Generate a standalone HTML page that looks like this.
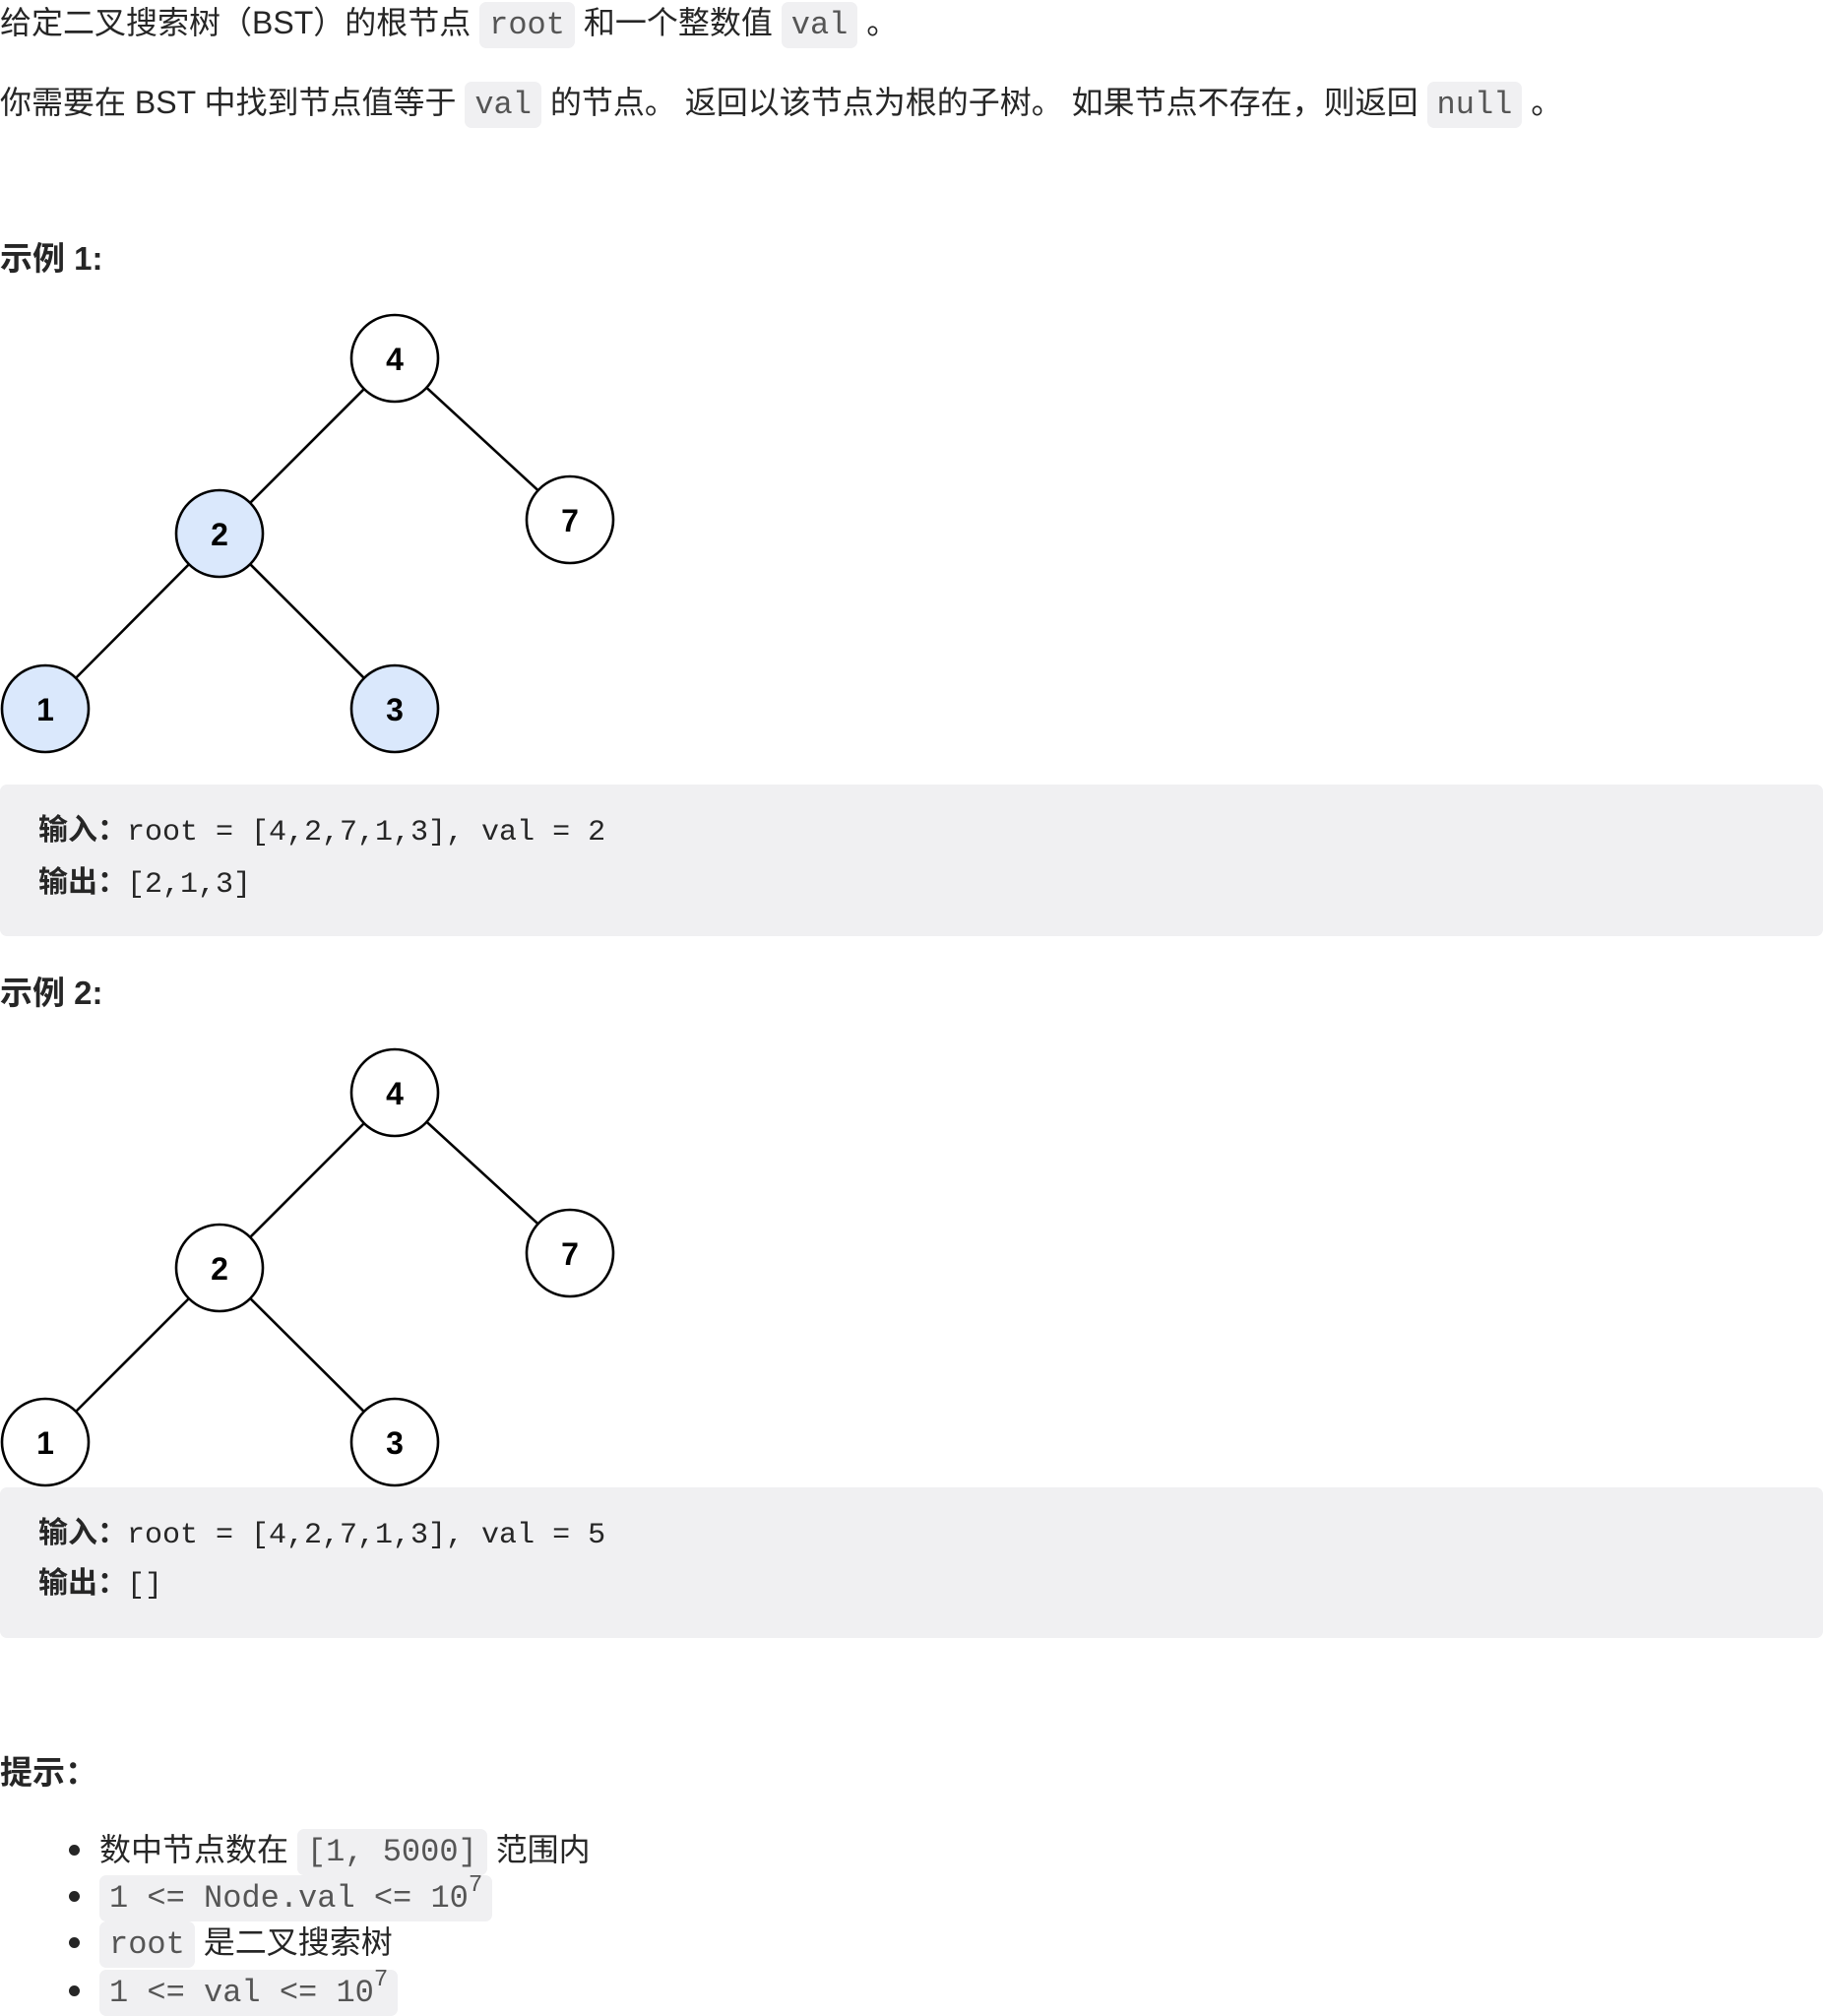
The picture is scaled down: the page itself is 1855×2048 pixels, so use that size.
<!DOCTYPE html>
<html><head><meta charset="utf-8"><style>
html,body{margin:0;padding:0;background:#fff;}
body{width:1855px;height:2048px;position:relative;overflow:hidden;font-family:"Liberation Sans","Noto Sans CJK SC",sans-serif;color:#262626;}
.l{position:absolute;left:0;white-space:nowrap;font-size:32px;line-height:47px;}
code{font-family:"Liberation Mono","Noto Sans CJK SC",monospace;font-size:32px;color:#555;background:#f0f0f2;border-radius:7px;padding:5px 10px;}
.b{font-weight:bold;font-size:33px;}
.pre{position:absolute;left:0;width:1852px;background:#f0f0f2;border-radius:7px;}
.pre div{position:absolute;left:39px;white-space:nowrap;font-family:"Liberation Mono","Noto Sans CJK SC",monospace;font-size:30px;line-height:40px;color:#262626;}
.pre b{font-family:"Liberation Sans","Noto Sans CJK SC",sans-serif;}
.li{position:absolute;left:101px;white-space:nowrap;font-size:32px;line-height:47px;}
.dot{position:absolute;left:70px;width:11px;height:11px;border-radius:50%;background:#262626;}
sup{font-size:24px;vertical-align:16px;line-height:0;}
</style></head><body>
<div class="l" style="top:0px">给定二叉搜索树（BST）的根节点 <code>root</code> 和一个整数值 <code>val</code> 。</div>
<div class="l" style="top:81px">你需要在 BST 中找到节点值等于 <code>val</code> 的节点。 返回以该节点为根的子树。 如果节点不存在，则返回 <code>null</code> 。</div>
<div class="l b" style="top:239px">示例 1:</div>

<svg style="position:absolute;left:0;top:0" width="700" height="1560">
<g stroke="#000" stroke-width="2.6">
<line x1="401" y1="364" x2="223" y2="542"/><line x1="401" y1="364" x2="579" y2="528"/>
<line x1="223" y1="542" x2="46" y2="720"/><line x1="223" y1="542" x2="401" y2="720"/>
<line x1="401" y1="1110" x2="223" y2="1288"/><line x1="401" y1="1110" x2="579" y2="1273"/>
<line x1="223" y1="1288" x2="46" y2="1465"/><line x1="223" y1="1288" x2="401" y2="1465"/>
</g>
<g stroke="#000" stroke-width="2.6">
<circle cx="401" cy="364" r="44" fill="#fff"/><circle cx="579" cy="528" r="44" fill="#fff"/>
<circle cx="223" cy="542" r="44" fill="#dae8fc"/><circle cx="46" cy="720" r="44" fill="#dae8fc"/><circle cx="401" cy="720" r="44" fill="#dae8fc"/>
<circle cx="401" cy="1110" r="44" fill="#fff"/><circle cx="579" cy="1273" r="44" fill="#fff"/>
<circle cx="223" cy="1288" r="44" fill="#fff"/><circle cx="46" cy="1465" r="44" fill="#fff"/><circle cx="401" cy="1465" r="44" fill="#fff"/>
</g>
<g font-family="Liberation Sans" font-weight="bold" font-size="32" text-anchor="middle" fill="#000">
<text x="401" y="376">4</text><text x="579" y="540">7</text><text x="223" y="554">2</text><text x="46" y="732">1</text><text x="401" y="732">3</text>
<text x="401" y="1122">4</text><text x="579" y="1285">7</text><text x="223" y="1300">2</text><text x="46" y="1477">1</text><text x="401" y="1477">3</text>
</g>
</svg>

<div class="pre" style="top:797px;height:154px">
<div style="top:27px"><b>输入：</b>root = [4,2,7,1,3], val = 2</div>
<div style="top:80px"><b>输出：</b>[2,1,3]</div>
</div>
<div class="l b" style="top:985px">示例 2:</div>
<div class="pre" style="top:1511px;height:153px">
<div style="top:27px"><b>输入：</b>root = [4,2,7,1,3], val = 5</div>
<div style="top:78px"><b>输出：</b>[]</div>
</div>
<div class="l b" style="top:1777px">提示：</div>
<div class="dot" style="top:1874px"></div><div class="li" style="top:1856px">数中节点数在 <code>[1, 5000]</code> 范围内</div>
<div class="dot" style="top:1921px"></div><div class="li" style="top:1903px"><code>1 &lt;= Node.val &lt;= 10<sup>7</sup></code></div>
<div class="dot" style="top:1968px"></div><div class="li" style="top:1950px"><code>root</code> 是二叉搜索树</div>
<div class="dot" style="top:2017px"></div><div class="li" style="top:1999px"><code>1 &lt;= val &lt;= 10<sup>7</sup></code></div>
</body></html>
